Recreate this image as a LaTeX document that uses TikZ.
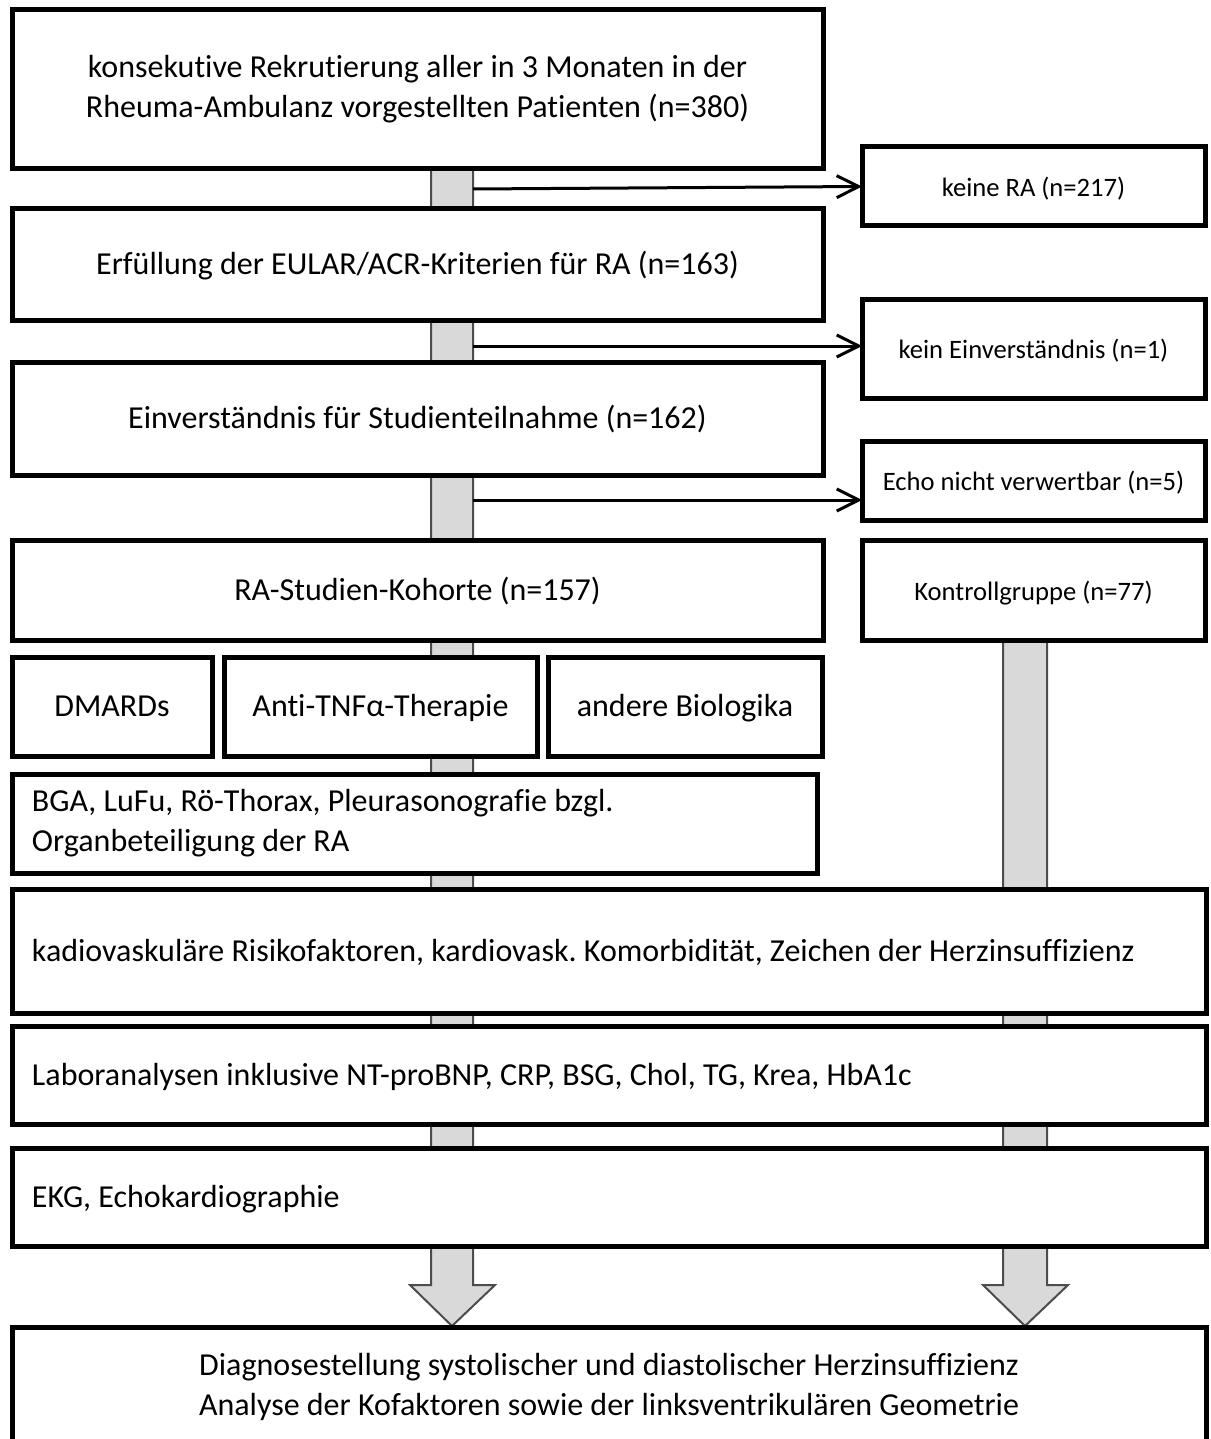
\documentclass[tikz,border=0pt]{standalone}
\usepackage{fontspec}
\setmainfont{Carlito}[Ligatures=NoCommon]
\usetikzlibrary{arrows.meta}

\begin{document}
\frenchspacing
\begin{tikzpicture}[x=0.5pt,y=-0.5pt,
    box/.style={draw, fill=white, line width=2.5pt, inner sep=0pt, outer sep=0pt,
        font=\fontsize{16}{20}\selectfont, align=center, text height=1.24em, text depth=0.2em},
    twoline/.style={text height={}, text depth={}},
    sidebox/.style={box, minimum width=171.5pt, font=\fontsize{13.3}{16}\selectfont},
    leftbox/.style={box, align=flush left, inner xsep=10pt},
    bar/.style={draw=black!70, fill=black!15, line width=1pt},
    drop/.style={-{Straight Barb[length=11pt,width=11pt]}, line width=1.5pt}
  ]
  \useasboundingbox (0,0) rectangle (1210,1439);

  % grey flow bars behind the boxes
  \draw[bar] (431,170) -- (431,1285) -- (410,1285) -- (452,1326) -- (495,1285) -- (473,1285) -- (473,170);
  \draw[bar] (1003,640) -- (1003,1285) -- (983,1285) -- (1025,1326) -- (1068,1285) -- (1047,1285) -- (1047,640);

  % main column
  \node[box, twoline, minimum width=405.5pt, minimum height=79.5pt] (rekrut) at (417.5,89.5)
      {konsekutive Rekrutierung aller in 3 Monaten in der\\Rheuma-Ambulanz vorgestellten Patienten (n=380)};
  \node[box, minimum width=405.5pt, minimum height=55.5pt] (eular) at (417.5,264.5)
      {Erfüllung der EULAR/ACR-Kriterien für RA (n=163)};
  \node[box, minimum width=405.5pt, minimum height=56.5pt] (einv) at (417.5,418.5)
      {Einverständnis für Studienteilnahme (n=162)};
  \node[box, minimum width=405.5pt, minimum height=50pt] (kohorte) at (417.5,590)
      {RA-Studien-Kohorte (n=157)};

  % right column
  \node[sidebox, minimum height=39.5pt] (keinra) at (1033.5,186.5) {keine RA (n=217)};
  \node[sidebox, minimum height=49.5pt] (keineinv) at (1033.5,348.5) {kein Einverständnis (n=1)};
  \node[sidebox, minimum height=39.5pt] (echo) at (1033.5,480.5) {Echo nicht verwertbar (n=5)};
  \node[sidebox, minimum height=50pt] (kontrolle) at (1033.5,590) {Kontrollgruppe (n=77)};

  % therapies
  \node[box, minimum width=100pt, minimum height=49.5pt] (dmards) at (112,706.5) {DMARDs};
  \node[box, minimum width=156.5pt, minimum height=49.5pt] (antitnf) at (380.5,706.5) {Anti-TNFα-Therapie};
  \node[box, minimum width=137pt, minimum height=49.5pt] (biologika) at (685,706.5) {andere Biologika};

  \node[leftbox, twoline, text width=382.5pt, minimum height=49.5pt] (bga) at (414.5,823.5)
      {BGA, LuFu, Rö-Thorax, Pleurasonografie bzgl.\\Organbeteiligung der RA};
  \node[leftbox, text width=577pt, minimum height=62pt] (kardio) at (609,951)
      {kadiovaskuläre Risikofaktoren, kardiovask. Komorbidität, Zeichen der Herzinsuffizienz};
  \node[leftbox, text width=577pt, minimum height=49pt] (labor) at (609,1075)
      {Laboranalysen inklusive NT-proBNP, CRP, BSG, Chol, TG, Krea, HbA1c};
  \node[leftbox, text width=577pt, minimum height=49pt] (ekg) at (609,1197)
      {EKG, Echokardiographie};

  \node[box, minimum width=597pt, minimum height=80pt, anchor=north] (diag) at (609,1327) {};
  \node[font=\fontsize{16}{20}\selectfont, align=center] (diagtext) at (609,1387)
      {Diagnosestellung systolischer und diastolischer Herzinsuffizienz\\Analyse der Kofaktoren sowie der linksventrikulären Geometrie};

  % drop-outs
  \coordinate (ab1) at (473,189);
  \coordinate (ab2) at (473,346);
  \coordinate (ab3) at (473,500);
  \draw[drop] (ab1) -- (keinra.west);
  \draw[drop] (ab2) -- (ab2 -| keineinv.west);
  \draw[drop] (ab3) -- (ab3 -| echo.west);
\end{tikzpicture}
\end{document}
